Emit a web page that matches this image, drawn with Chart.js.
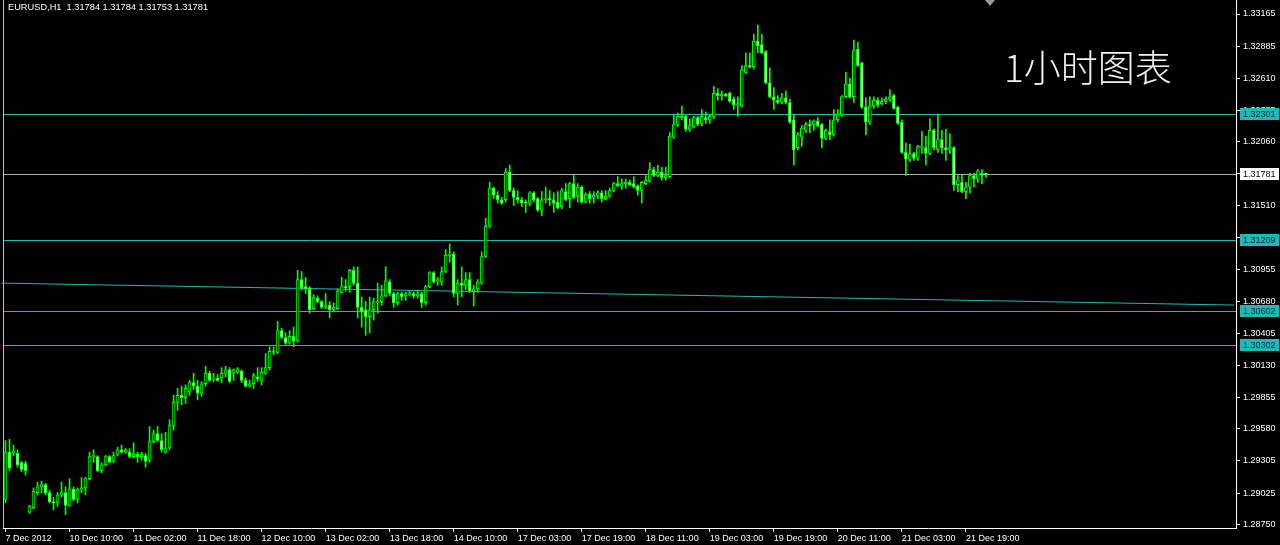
<!DOCTYPE html>
<html>
<head>
<meta charset="utf-8">
<script src="https://cdn.jsdelivr.net/npm/chart.js@4.4.0/dist/chart.umd.min.js"></script>
<style>
  html, body { margin: 0; padding: 0; background: #000; }
  #chart { display: block; background: #000; }
</style>
</head>
<body>
<canvas id="chart" width="1280" height="545"></canvas>
<script>
// ---- data (EURUSD H1, 7 Dec - 21 Dec 2012) ----
const symbolTitle = "EURUSD,H1  1.31784 1.31784 1.31753 1.31781";
const noteText = "1小时图表";

const opens = [
  1.2897,1.2938,1.2937,1.2937,1.2929,1.2928,1.2886,1.2890,1.2903,1.2908,1.2910,1.2903,1.2895,1.2894,1.2901,1.2903,1.2892,1.2906,1.2897,1.2905,
  1.2907,1.2915,1.2934,1.2934,1.2922,1.2927,1.2934,1.2930,1.2936,1.2940,1.2938,1.2938,1.2934,1.2936,1.2934,1.2935,1.2931,1.2947,1.2954,1.2948,
  1.2938,1.2942,1.2961,1.2981,1.2987,1.2985,1.2990,1.2998,1.2995,1.2989,1.2997,1.3006,1.3001,1.3002,1.3002,1.3006,1.3009,1.3006,1.3007,1.3008,
  1.3000,1.2995,1.2997,1.3003,1.3000,1.3006,1.3011,1.3024,1.3024,1.3043,1.3037,1.3032,1.3038,1.3034,1.3087,1.3081,1.3080,1.3062,1.3071,1.3068,
  1.3063,1.3065,1.3061,1.3062,1.3076,1.3081,1.3081,1.3095,1.3084,1.3063,1.3061,1.3055,1.3061,1.3067,1.3068,1.3073,1.3085,1.3075,1.3067,1.3075,
  1.3073,1.3074,1.3075,1.3073,1.3075,1.3067,1.3081,1.3093,1.3086,1.3085,1.3094,1.3108,1.3109,1.3075,1.3084,1.3082,1.3087,1.3077,1.3079,1.3084,
  1.3107,1.3133,1.3166,1.3160,1.3156,1.3156,1.3180,1.3164,1.3158,1.3156,1.3154,1.3153,1.3162,1.3157,1.3147,1.3156,1.3157,1.3156,1.3154,1.3150,
  1.3163,1.3157,1.3170,1.3159,1.3167,1.3154,1.3161,1.3158,1.3159,1.3162,1.3157,1.3159,1.3164,1.3170,1.3168,1.3170,1.3171,1.3170,1.3168,1.3164,
  1.3170,1.3172,1.3182,1.3177,1.3180,1.3175,1.3176,1.3210,1.3221,1.3227,1.3228,1.3217,1.3219,1.3227,1.3222,1.3227,1.3225,1.3228,1.3248,1.3246,
  1.3247,1.3248,1.3243,1.3238,1.3237,1.3266,1.3272,1.3271,1.3293,1.3290,1.3284,1.3257,1.3245,1.3242,1.3240,1.3244,1.3240,1.3225,1.3201,1.3210,
  1.3216,1.3221,1.3221,1.3224,1.3221,1.3209,1.3215,1.3212,1.3225,1.3229,1.3245,1.3256,1.3245,1.3286,1.3274,1.3236,1.3223,1.3237,1.3242,1.3239,
  1.3241,1.3243,1.3246,1.3236,1.3223,1.3197,1.3191,1.3196,1.3192,1.3201,1.3201,1.3196,1.3216,1.3199,1.3208,1.3201,1.3200,1.3201,1.3169,1.3171,
  1.3163,1.3167,1.3177,1.3174,1.3179,1.31784
];
const highs = [
  1.2948,1.2949,1.2944,1.2940,1.2930,1.2930,1.2892,1.2907,1.2912,1.2913,1.2911,1.2905,1.2899,1.2903,1.2912,1.2908,1.2915,1.2908,1.2907,1.2916,
  1.2916,1.2938,1.2940,1.2935,1.2929,1.2935,1.2935,1.2938,1.2942,1.2944,1.2941,1.2941,1.2946,1.2938,1.2938,1.2937,1.2960,1.2957,1.2960,1.2954,
  1.2955,1.2966,1.2987,1.2993,1.2995,1.2996,1.3000,1.3006,1.3000,1.2999,1.3012,1.3008,1.3006,1.3005,1.3011,1.3012,1.3011,1.3010,1.3011,1.3009,
  1.3002,1.3000,1.3006,1.3011,1.3011,1.3023,1.3029,1.3029,1.3051,1.3045,1.3041,1.3043,1.3046,1.3095,1.3094,1.3089,1.3081,1.3074,1.3073,1.3069,
  1.3075,1.3068,1.3067,1.3079,1.3089,1.3087,1.3096,1.3098,1.3098,1.3072,1.3068,1.3072,1.3071,1.3084,1.3082,1.3098,1.3087,1.3076,1.3076,1.3076,
  1.3076,1.3077,1.3076,1.3078,1.3076,1.3082,1.3094,1.3094,1.3089,1.3098,1.3113,1.3118,1.3111,1.3087,1.3098,1.3093,1.3093,1.3082,1.3087,1.3111,
  1.3140,1.3171,1.3167,1.3163,1.3158,1.3183,1.3186,1.3166,1.3164,1.3158,1.3156,1.3163,1.3163,1.3158,1.3163,1.3167,1.3164,1.3162,1.3163,1.3166,
  1.3170,1.3171,1.3177,1.3170,1.3168,1.3162,1.3163,1.3163,1.3164,1.3164,1.3164,1.3166,1.3171,1.3176,1.3174,1.3174,1.3173,1.3176,1.3169,1.3172,
  1.3177,1.3188,1.3184,1.3186,1.3184,1.3184,1.3214,1.3229,1.3231,1.3237,1.3229,1.3226,1.3228,1.3228,1.3234,1.3232,1.3229,1.3254,1.3252,1.3250,
  1.3248,1.3249,1.3245,1.3245,1.3272,1.3283,1.3283,1.3299,1.3307,1.3299,1.3285,1.3270,1.3253,1.3246,1.3248,1.3250,1.3243,1.3229,1.3214,1.3220,
  1.3223,1.3225,1.3225,1.3227,1.3222,1.3217,1.3225,1.3234,1.3234,1.3246,1.3266,1.3261,1.3294,1.3292,1.3275,1.3244,1.3245,1.3245,1.3244,1.3244,
  1.3245,1.3251,1.3247,1.3237,1.3225,1.3205,1.3204,1.3197,1.3203,1.3215,1.3211,1.3226,1.3217,1.3230,1.3216,1.3217,1.3213,1.3202,1.3177,1.3178,
  1.3171,1.3179,1.3179,1.3182,1.3182,1.31784
];
const lows = [
  1.2894,1.2922,1.2935,1.2925,1.2921,1.2918,1.2885,1.2889,1.2901,1.2903,1.2901,1.2894,1.2888,1.2891,1.2899,1.2884,1.2891,1.2896,1.2894,1.2903,
  1.2901,1.2914,1.2929,1.2921,1.2920,1.2926,1.2929,1.2929,1.2935,1.2937,1.2937,1.2933,1.2933,1.2929,1.2931,1.2925,1.2929,1.2946,1.2947,1.2938,
  1.2937,1.2940,1.2957,1.2974,1.2979,1.2980,1.2987,1.2992,1.2983,1.2986,1.2995,1.2999,1.2999,1.2999,1.2998,1.3003,1.2998,1.3000,1.3006,1.2998,
  1.2994,1.2994,1.2993,1.2999,1.2996,1.3005,1.3009,1.3022,1.3023,1.3036,1.3031,1.3031,1.3029,1.3033,1.3078,1.3075,1.3058,1.3061,1.3067,1.3062,
  1.3062,1.3054,1.3059,1.3061,1.3075,1.3077,1.3076,1.3082,1.3054,1.3046,1.3039,1.3041,1.3052,1.3058,1.3065,1.3072,1.3073,1.3063,1.3065,1.3069,
  1.3069,1.3073,1.3071,1.3071,1.3063,1.3065,1.3080,1.3084,1.3082,1.3082,1.3093,1.3102,1.3072,1.3065,1.3072,1.3078,1.3076,1.3064,1.3076,1.3083,
  1.3106,1.3132,1.3157,1.3153,1.3152,1.3154,1.3163,1.3151,1.3153,1.3150,1.3145,1.3151,1.3154,1.3146,1.3142,1.3153,1.3151,1.3145,1.3148,1.3148,
  1.3155,1.3149,1.3157,1.3154,1.3153,1.3153,1.3153,1.3153,1.3157,1.3154,1.3156,1.3158,1.3163,1.3167,1.3165,1.3166,1.3168,1.3166,1.3160,1.3153,
  1.3169,1.3171,1.3176,1.3176,1.3173,1.3173,1.3175,1.3209,1.3219,1.3225,1.3215,1.3215,1.3218,1.3220,1.3220,1.3222,1.3222,1.3226,1.3242,1.3242,
  1.3245,1.3240,1.3234,1.3228,1.3236,1.3265,1.3270,1.3269,1.3283,1.3282,1.3256,1.3244,1.3234,1.3239,1.3239,1.3239,1.3222,1.3186,1.3199,1.3202,
  1.3214,1.3214,1.3216,1.3219,1.3201,1.3208,1.3208,1.3211,1.3223,1.3228,1.3244,1.3244,1.3240,1.3271,1.3235,1.3212,1.3221,1.3235,1.3236,1.3238,
  1.3239,1.3241,1.3234,1.3221,1.3196,1.3177,1.3189,1.3190,1.3190,1.3196,1.3186,1.3195,1.3199,1.3197,1.3196,1.3190,1.3196,1.3164,1.3163,1.3162,
  1.3157,1.3162,1.3167,1.3171,1.3170,1.31753
];
const closes = [
  1.2938,1.2924,1.2939,1.2927,1.2923,1.2922,1.2891,1.2904,1.2908,1.2910,1.2903,1.2895,1.2894,1.2901,1.2903,1.2892,1.2906,1.2897,1.2906,1.2907,
  1.2915,1.2934,1.2935,1.2922,1.2927,1.2934,1.2929,1.2935,1.2940,1.2938,1.2940,1.2934,1.2936,1.2934,1.2936,1.2930,1.2947,1.2954,1.2948,1.2940,
  1.2941,1.2961,1.2981,1.2987,1.2985,1.2993,1.2998,1.2995,1.2989,1.2997,1.3006,1.3000,1.3002,1.3000,1.3006,1.3009,1.2999,1.3009,1.3010,1.3000,
  1.2995,1.2997,1.3004,1.3001,1.3007,1.3011,1.3025,1.3025,1.3043,1.3037,1.3032,1.3038,1.3034,1.3087,1.3080,1.3079,1.3061,1.3072,1.3068,1.3063,
  1.3065,1.3061,1.3063,1.3077,1.3081,1.3080,1.3095,1.3084,1.3063,1.3059,1.3055,1.3061,1.3068,1.3068,1.3073,1.3086,1.3075,1.3067,1.3075,1.3072,
  1.3075,1.3075,1.3073,1.3075,1.3067,1.3081,1.3093,1.3085,1.3087,1.3094,1.3108,1.3109,1.3075,1.3084,1.3082,1.3087,1.3077,1.3079,1.3085,1.3107,
  1.3133,1.3166,1.3160,1.3156,1.3153,1.3180,1.3164,1.3158,1.3156,1.3153,1.3153,1.3162,1.3156,1.3147,1.3156,1.3157,1.3156,1.3153,1.3149,1.3164,
  1.3156,1.3170,1.3158,1.3167,1.3154,1.3161,1.3157,1.3160,1.3162,1.3157,1.3159,1.3164,1.3170,1.3168,1.3170,1.3171,1.3169,1.3167,1.3164,1.3171,
  1.3173,1.3182,1.3177,1.3180,1.3175,1.3177,1.3211,1.3221,1.3228,1.3228,1.3217,1.3220,1.3227,1.3221,1.3228,1.3225,1.3228,1.3248,1.3246,1.3247,
  1.3246,1.3241,1.3238,1.3239,1.3268,1.3272,1.3271,1.3293,1.3289,1.3283,1.3257,1.3245,1.3242,1.3240,1.3244,1.3240,1.3223,1.3199,1.3212,1.3218,
  1.3221,1.3220,1.3224,1.3220,1.3209,1.3216,1.3212,1.3225,1.3230,1.3245,1.3256,1.3245,1.3285,1.3272,1.3236,1.3223,1.3237,1.3242,1.3238,1.3241,
  1.3243,1.3245,1.3235,1.3222,1.3197,1.3191,1.3196,1.3192,1.3202,1.3202,1.3196,1.3216,1.3201,1.3208,1.3201,1.3199,1.3201,1.3169,1.3173,1.3163,
  1.3167,1.3177,1.3174,1.3181,1.3177,1.31781
];

// one label every 16 bars
const timeLabels = ["7 Dec 2012", "10 Dec 10:00", "11 Dec 02:00", "11 Dec 18:00", "12 Dec 10:00", "13 Dec 02:00",
  "13 Dec 18:00", "14 Dec 10:00", "17 Dec 03:00", "17 Dec 19:00", "18 Dec 11:00", "19 Dec 03:00",
  "19 Dec 19:00", "20 Dec 11:00", "21 Dec 03:00", "21 Dec 19:00"];
const labelStep = 16;
const slotCount = 308; // bars + empty chart shift on the right

const priceTicks = [1.33165, 1.32885, 1.32610, 1.32335, 1.32060, 1.31785, 1.31510, 1.31235, 1.30955,
  1.30680, 1.30405, 1.30130, 1.29855, 1.29580, 1.29305, 1.29025, 1.28750];
const levelLines = [1.32301, 1.31209, 1.30602, 1.30302];
const bidPrice = 1.31781;
const trendFrom = { slot: -1, price: 1.3084 };
const trendTo = { slot: 307, price: 1.3065 };

// ---- styling ----
const candleGreen = "#00ff00";
const levelColor = "#22b8b8";
const uiFont = "Liberation Sans, Arial, sans-serif";

const slots = Array.from({ length: slotCount }, (_, i) => i);
const wickData = lows.map((l, i) => [l, highs[i]]);
const bodyData = opens.map((o, i) => [Math.min(o, closes[i]), Math.max(o, closes[i])]);
const bodyFill = opens.map((o, i) => closes[i] >= o ? "#000000" : "#e6ffe6");

const overlay = {
    id: "overlay",
    beforeDatasetsDraw(chart) {
        const { ctx, chartArea: a, scales: { x, y } } = chart;
        ctx.save();
        ctx.lineWidth = 1;
        ctx.strokeStyle = levelColor;
        levelLines.forEach(v => {
            const py = Math.round(y.getPixelForValue(v)) + 0.5;
            ctx.beginPath(); ctx.moveTo(a.left, py); ctx.lineTo(a.right, py); ctx.stroke();
        });
        // trend line
        ctx.beginPath();
        ctx.moveTo(x.getPixelForValue(trendFrom.slot), y.getPixelForValue(trendFrom.price));
        ctx.lineTo(x.getPixelForValue(trendTo.slot), y.getPixelForValue(trendTo.price));
        ctx.stroke();
        // bid line
        ctx.strokeStyle = "#b0b0b0";
        const by = Math.round(y.getPixelForValue(bidPrice)) + 0.5;
        ctx.beginPath(); ctx.moveTo(a.left, by); ctx.lineTo(a.right, by); ctx.stroke();
        ctx.restore();
    },
    afterDraw(chart) {
        const { ctx, chartArea: a, scales: { y } } = chart;
        ctx.save();
        // left border
        ctx.strokeStyle = "#c0c0c0";
        ctx.beginPath(); ctx.moveTo(Math.floor(a.left) + 0.5, 0); ctx.lineTo(Math.floor(a.left) + 0.5, a.bottom); ctx.stroke();

        // price boxes on the axis
        ctx.font = "9px " + uiFont;
        ctx.textBaseline = "middle";
        ctx.textAlign = "left";
        const box = (v, bg, fg) => {
            const py = Math.round(y.getPixelForValue(v));
            ctx.fillStyle = bg;
            ctx.fillRect(a.right + 4, py - 6, 39, 12);
            ctx.fillStyle = fg;
            ctx.fillText(v.toFixed(5), a.right + 7, py + 0.5);
        };
        levelLines.forEach(v => box(v, levelColor, "#003030"));
        box(bidPrice, "#ffffff", "#000000");

        // title
        ctx.fillStyle = "#ffffff";
        ctx.textBaseline = "top";
        ctx.font = "9.25px " + uiFont;
        ctx.fillText(symbolTitle, 8, 3);

        // note text
        ctx.font = "300 37px 'Noto Sans CJK SC', sans-serif";
        ctx.fillStyle = "#f0f0f0";
        ctx.textBaseline = "middle";
        ctx.fillText(noteText, 1004, 68);

        // chart shift marker
        ctx.fillStyle = "#9a9a9a";
        ctx.beginPath(); ctx.moveTo(985, 0); ctx.lineTo(995, 0); ctx.lineTo(990, 6); ctx.closePath(); ctx.fill();
        ctx.restore();
    }
};

const chart = new Chart(document.getElementById("chart").getContext("2d"), {
    type: "bar",
    data: {
        labels: slots,
        datasets: [
            {
                label: "body",
                data: bodyData,
                backgroundColor: bodyFill,
                borderColor: candleGreen,
                borderWidth: 1,
                borderSkipped: false,
                barThickness: 3,
                minBarLength: 1,
                grouped: false,
                order: 0
            },
            {
                label: "wick",
                data: wickData,
                backgroundColor: candleGreen,
                borderWidth: 0,
                barThickness: 1,
                grouped: false,
                order: 1
            }
        ]
    },
    options: {
        responsive: false,
        animation: false,
        events: [],
        layout: { padding: { left: 3.5, top: 0, right: 0, bottom: 0 } },
        plugins: { legend: { display: false }, tooltip: { enabled: false } },
        scales: {
            x: {
                type: "category",
                offset: true,
                grid: { display: true, offset: false, drawOnChartArea: false, tickLength: 4, color: "#ffffff" },
                border: { display: true, color: "#ffffff" },
                ticks: {
                    autoSkip: false,
                    maxRotation: 0,
                    align: "start",
                    padding: 1,
                    color: "#ffffff",
                    font: { family: uiFont, size: 9 },
                    callback: (v) => timeLabels[v / labelStep]
                },
                afterBuildTicks: s => {
                    s.ticks = s.ticks.filter(t => t.value % labelStep === 0 && t.value / labelStep < timeLabels.length);
                },
                afterFit: s => { s.height = 17; s.paddingLeft = 0; s.paddingRight = 0; }
            },
            y: {
                position: "right",
                min: 1.28724,
                max: 1.33286,
                grid: { display: true, drawOnChartArea: false, tickLength: 4, color: "#ffffff" },
                border: { display: true, color: "#ffffff" },
                ticks: {
                    padding: 3,
                    color: "#ffffff",
                    font: { family: uiFont, size: 9 },
                    callback: v => Number(v).toFixed(5)
                },
                afterBuildTicks: s => { s.ticks = priceTicks.map(v => ({ value: v })); },
                afterFit: s => { s.width = 44; s.paddingTop = 0; s.paddingBottom = 0; }
            }
        }
    },
    plugins: [overlay]
});
</script>
</body>
</html>
